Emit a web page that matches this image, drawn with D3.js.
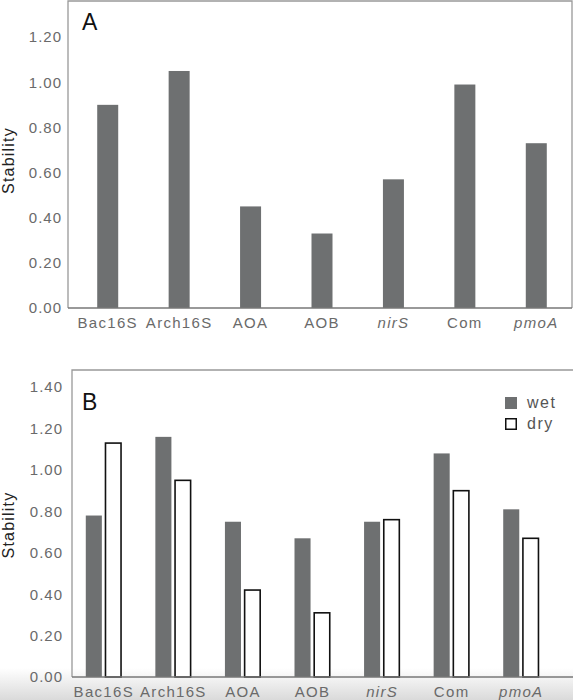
<!DOCTYPE html>
<html>
<head>
<meta charset="utf-8">
<script src="https://cdn.jsdelivr.net/npm/d3@7"></script>
<style>
  html, body { margin: 0; padding: 0; background: #fff; }
  svg { display: block; }
  text { font-family: "Liberation Sans", Arial, Helvetica, sans-serif; }
</style>
</head>
<body>
<svg id="chart" width="573" height="700"></svg>
<script>
// ---- data ----
const categories = ["Bac16S", "Arch16S", "AOA", "AOB", "nirS", "Com", "pmoA"];
const italicCats = ["nirS", "pmoA"];
const stabilityA = [0.90, 1.05, 0.45, 0.33, 0.57, 0.99, 0.73];
const seriesB = ["wet", "dry"];
const stabilityWet = [0.78, 1.16, 0.75, 0.67, 0.75, 1.08, 0.81];
const stabilityDry = [1.13, 0.95, 0.42, 0.31, 0.76, 0.90, 0.67];
const ticksA = [0, 0.2, 0.4, 0.6, 0.8, 1.0, 1.2];
const ticksB = [0, 0.2, 0.4, 0.6, 0.8, 1.0, 1.2, 1.4];

const barGray = "#6e7071";
const tickColor = "#6a6a6a";

const svg = d3.select("#chart");

// background gradient at bottom (photo shading)
const defs = svg.append("defs");
const grad = defs.append("linearGradient").attr("id", "shade")
  .attr("x1", 0).attr("y1", 0).attr("x2", 0).attr("y2", 1);
grad.append("stop").attr("offset", "0%").attr("stop-color", "#ffffff");
grad.append("stop").attr("offset", "100%").attr("stop-color", "#dadada");
svg.append("rect").attr("x", 0).attr("y", 668).attr("width", 573).attr("height", 32)
  .attr("fill", "url(#shade)");

// ================= Panel A =================
const A = { left: 68, right: 572, top: 1, bottom: 308 };
const xA = d3.scaleBand().domain(categories).range([72, 572]).padding(0);
const yA = d3.scaleLinear().domain([0, 1.36]).range([A.bottom, A.top]);

const gA = svg.append("g");
// frame
gA.append("path")
  .attr("d", `M${A.left},${A.bottom}V${A.top}H${A.right}V${A.bottom}`)
  .attr("fill", "none").attr("stroke", "#999").attr("stroke-width", 1.3);

const barWA = 21;
gA.selectAll("rect.bar").data(categories).join("rect")
  .attr("class", "bar")
  .attr("x", d => xA(d) + xA.bandwidth() / 2 - barWA / 2)
  .attr("width", barWA)
  .attr("y", (d, i) => yA(stabilityA[i]))
  .attr("height", (d, i) => yA(0) - yA(stabilityA[i]))
  .attr("fill", barGray);

gA.append("line").attr("x1", A.left).attr("x2", A.right)
  .attr("y1", A.bottom).attr("y2", A.bottom)
  .attr("stroke", "#777").attr("stroke-width", 1.3);

const yAxisA = gA.append("g").attr("transform", `translate(${A.left},0)`)
  .call(d3.axisLeft(yA).tickValues(ticksA).tickSize(0).tickPadding(6).tickFormat(d3.format(".2f")));
yAxisA.select(".domain").remove();
yAxisA.selectAll("text").attr("font-size", 15).attr("fill", tickColor)
  .attr("letter-spacing", "1px").attr("font-family", "Liberation Sans, Arial, sans-serif");

const xAxisA = gA.append("g").attr("transform", `translate(0,${A.bottom})`)
  .call(d3.axisBottom(xA).tickSize(0).tickPadding(9));
xAxisA.select(".domain").remove();
xAxisA.selectAll("text").attr("font-size", 15).attr("fill", tickColor)
  .attr("letter-spacing", "1.3px").attr("font-family", "Liberation Sans, Arial, sans-serif")
  .attr("font-style", d => italicCats.includes(d) ? "italic" : "normal");

gA.append("text").attr("transform", `translate(14,${(A.top + A.bottom) / 2 + 6}) rotate(-90)`)
  .attr("text-anchor", "middle").attr("font-size", 16).attr("letter-spacing", "1.2px")
  .attr("fill", "#222").text("Stability");

gA.append("text").attr("x", 82).attr("y", 30).attr("font-size", 23)
  .attr("fill", "#111").text("A");

// ================= Panel B =================
const B = { left: 72, right: 574, top: 370, bottom: 677 };
const xB = d3.scaleBand().domain(categories).range([69, 556]).padding(0);
const xSub = d3.scaleBand().domain(seriesB).range([-18, 18]).paddingInner(0.1);
const yB = d3.scaleLinear().domain([0, 1.483]).range([B.bottom, B.top]);

const gB = svg.append("g");
gB.append("path")
  .attr("d", `M${B.left},${B.bottom}V${B.top}H${B.right}`)
  .attr("fill", "none").attr("stroke", "#999").attr("stroke-width", 1.3);

const rowsB = categories.map((c, i) => ({ cat: c, wet: stabilityWet[i], dry: stabilityDry[i] }));
const groups = gB.selectAll("g.grp").data(rowsB).join("g")
  .attr("class", "grp")
  .attr("transform", d => `translate(${xB(d.cat) + xB.bandwidth() / 2},0)`);

groups.append("rect")
  .attr("x", xSub("wet")).attr("width", xSub.bandwidth() - 1)
  .attr("y", d => yB(d.wet)).attr("height", d => yB(0) - yB(d.wet))
  .attr("fill", barGray);
groups.append("rect")
  .attr("x", xSub("dry") + 0.75).attr("width", xSub.bandwidth() - 1.5)
  .attr("y", d => yB(d.dry)).attr("height", d => yB(0) - yB(d.dry))
  .attr("fill", "#fff").attr("stroke", "#111").attr("stroke-width", 1.6);

gB.append("line").attr("x1", B.left).attr("x2", B.right)
  .attr("y1", B.bottom).attr("y2", B.bottom)
  .attr("stroke", "#777").attr("stroke-width", 1.3);

const yAxisB = gB.append("g").attr("transform", `translate(${B.left},0)`)
  .call(d3.axisLeft(yB).tickValues(ticksB).tickSize(0).tickPadding(9).tickFormat(d3.format(".2f")));
yAxisB.select(".domain").remove();
yAxisB.selectAll("text").attr("font-size", 15).attr("fill", tickColor)
  .attr("letter-spacing", "1px").attr("font-family", "Liberation Sans, Arial, sans-serif");

const xAxisB = gB.append("g").attr("transform", `translate(0,${B.bottom})`)
  .call(d3.axisBottom(xB).tickSize(0).tickPadding(9));
xAxisB.select(".domain").remove();
xAxisB.selectAll("text").attr("font-size", 15).attr("fill", tickColor)
  .attr("letter-spacing", "1.3px").attr("font-family", "Liberation Sans, Arial, sans-serif")
  .attr("font-style", d => italicCats.includes(d) ? "italic" : "normal");

gB.append("text").attr("transform", `translate(14,${525}) rotate(-90)`)
  .attr("text-anchor", "middle").attr("font-size", 16).attr("letter-spacing", "1.2px")
  .attr("fill", "#222").text("Stability");

gB.append("text").attr("x", 82).attr("y", 410).attr("font-size", 23)
  .attr("fill", "#111").text("B");

// legend
const legend = gB.append("g").attr("transform", "translate(505,397)");
const legItems = legend.selectAll("g").data(seriesB).join("g")
  .attr("transform", (d, i) => `translate(0,${i * 21})`);
legItems.append("rect")
  .attr("x", d => d === "dry" ? 0.75 : 0).attr("y", d => d === "dry" ? 0.75 : 0)
  .attr("width", d => d === "dry" ? 10.5 : 12).attr("height", d => d === "dry" ? 10.5 : 12)
  .attr("fill", d => d === "wet" ? barGray : "#fff")
  .attr("stroke", d => d === "dry" ? "#111" : "none").attr("stroke-width", 1.5);
legItems.append("text").attr("x", 22).attr("y", 11)
  .attr("font-size", 16).attr("letter-spacing", "1.5px").attr("fill", "#555")
  .text(d => d);
</script>
</body>
</html>
